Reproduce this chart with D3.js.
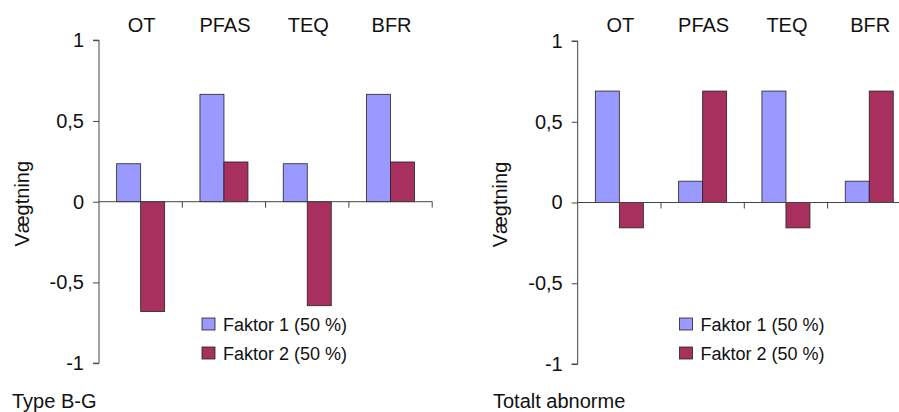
<!DOCTYPE html>
<html>
<head>
<meta charset="utf-8">
<script src="https://cdn.jsdelivr.net/npm/d3@7/dist/d3.min.js"></script>
<style>
  html, body { margin: 0; padding: 0; background: #fff; }
  svg { display: block; font-family: "Liberation Sans", Arial, sans-serif; }
</style>
</head>
<body>
<svg id="chart" width="899" height="412"></svg>
<script>
const categories = ["OT", "PFAS", "TEQ", "BFR"];
const seriesNames = ["Faktor 1 (50 %)", "Faktor 2 (50 %)"];
const yTicks = [-1, -0.5, 0, 0.5, 1];
const yTickLabels = ["-1", "-0,5", "0", "0,5", "1"];
const yAxisTitle = "Vægtning";

const leftTitle = "Type B-G";
const leftFaktor1 = [0.235, 0.665, 0.235, 0.665];
const leftFaktor2 = [-0.68, 0.246, -0.644, 0.246];

const rightTitle = "Totalt abnorme";
const rightFaktor1 = [0.69, 0.132, 0.69, 0.132];
const rightFaktor2 = [-0.157, 0.69, -0.157, 0.69];

const colors = ["#9999FF", "#A8305F"];

const svg = d3.select("#chart");

function panel(opts) {
  const g = svg.append("g");
  const x = d3.scaleBand().domain(categories).range([opts.x0, opts.x0 + 333.2]).padding(0);
  const x1 = d3.scaleBand().domain([0, 1]).range([0, x.bandwidth()]).paddingInner(0).paddingOuter(0.735);
  const y = d3.scaleLinear().domain([-1, 1]).range([opts.yBottom, opts.yTop]);
  const axisColor = "#444";

  // Bars
  const data = [];
  categories.forEach((c, i) => {
    data.push({ c, s: 0, v: opts.f1[i] });
    data.push({ c, s: 1, v: opts.f2[i] });
  });
  g.selectAll("rect.bar").data(data).enter().append("rect")
    .attr("class", "bar")
    .attr("x", d => x(d.c) + x1(d.s))
    .attr("width", x1.bandwidth())
    .attr("y", d => y(Math.max(0, d.v)))
    .attr("height", d => Math.abs(y(d.v) - y(0)))
    .attr("fill", d => colors[d.s])
    .attr("stroke", "#222")
    .attr("stroke-width", 0.8);

  // Y axis
  const yAxis = d3.axisLeft(y).tickValues(yTicks).tickSize(6).tickPadding(9)
    .tickFormat((d, i) => yTickLabels[yTicks.indexOf(d)]);
  const ya = g.append("g").attr("transform", `translate(${opts.x0},0)`).call(yAxis);
  ya.select(".domain").attr("stroke", axisColor).attr("d", `M-6,${y(1)}H0V${y(-1)}H-6`);
  ya.selectAll(".tick line").attr("stroke", axisColor);
  ya.selectAll(".tick text").attr("font-size", 20).attr("fill", "#111")
    .attr("font-family", "'Liberation Sans', Arial, sans-serif");

  // X axis at zero, ticks at category boundaries
  const xa = g.append("g").attr("transform", `translate(0,${y(0)})`);
  xa.append("line").attr("x1", x.range()[0]).attr("x2", x.range()[1])
    .attr("y1", 0).attr("y2", 0).attr("stroke", axisColor);
  const bounds = categories.map(c => x(c) + x.bandwidth());
  xa.selectAll("line.xt").data(bounds).enter().append("line")
    .attr("class", "xt")
    .attr("x1", d => d).attr("x2", d => d).attr("y1", 0).attr("y2", 6)
    .attr("stroke", axisColor);

  // Category labels on top
  g.selectAll("text.cat").data(categories).enter().append("text")
    .attr("class", "cat")
    .attr("x", d => x(d) + x.bandwidth() / 2 + 1)
    .attr("y", 32)
    .attr("text-anchor", "middle")
    .attr("font-size", 20).attr("fill", "#111")
    .text(d => d);

  // Y axis title
  g.append("text")
    .attr("transform", `translate(${opts.titleX},${(y(1) + y(-1)) / 2 + 2}) rotate(-90)`)
    .attr("text-anchor", "middle")
    .attr("font-size", 20).attr("fill", "#111")
    .text(yAxisTitle);

  // Panel title bottom-left
  g.append("text")
    .attr("x", opts.labelX).attr("y", 408)
    .attr("font-size", 20).attr("fill", "#111")
    .text(opts.title);

  // Legend
  const lg = g.append("g").attr("transform", `translate(${opts.legX},318)`);
  seriesNames.forEach((name, i) => {
    lg.append("rect").attr("x", 0).attr("y", i * 29).attr("width", 13).attr("height", 12)
      .attr("fill", colors[i]).attr("stroke", "#222").attr("stroke-width", 0.8);
    lg.append("text").attr("x", 21).attr("y", i * 29 + 12.5)
      .attr("font-size", 18).attr("fill", "#111").text(name);
  });
}

panel({ x0: 99, yTop: 40.2, yBottom: 363.2, f1: leftFaktor1, f2: leftFaktor2,
  titleX: 29, labelX: 12, title: leftTitle, legX: 202 });
panel({ x0: 577.7, yTop: 41, yBottom: 364, f1: rightFaktor1, f2: rightFaktor2,
  titleX: 507, labelX: 493, title: rightTitle, legX: 679.5 });
</script>
</body>
</html>
